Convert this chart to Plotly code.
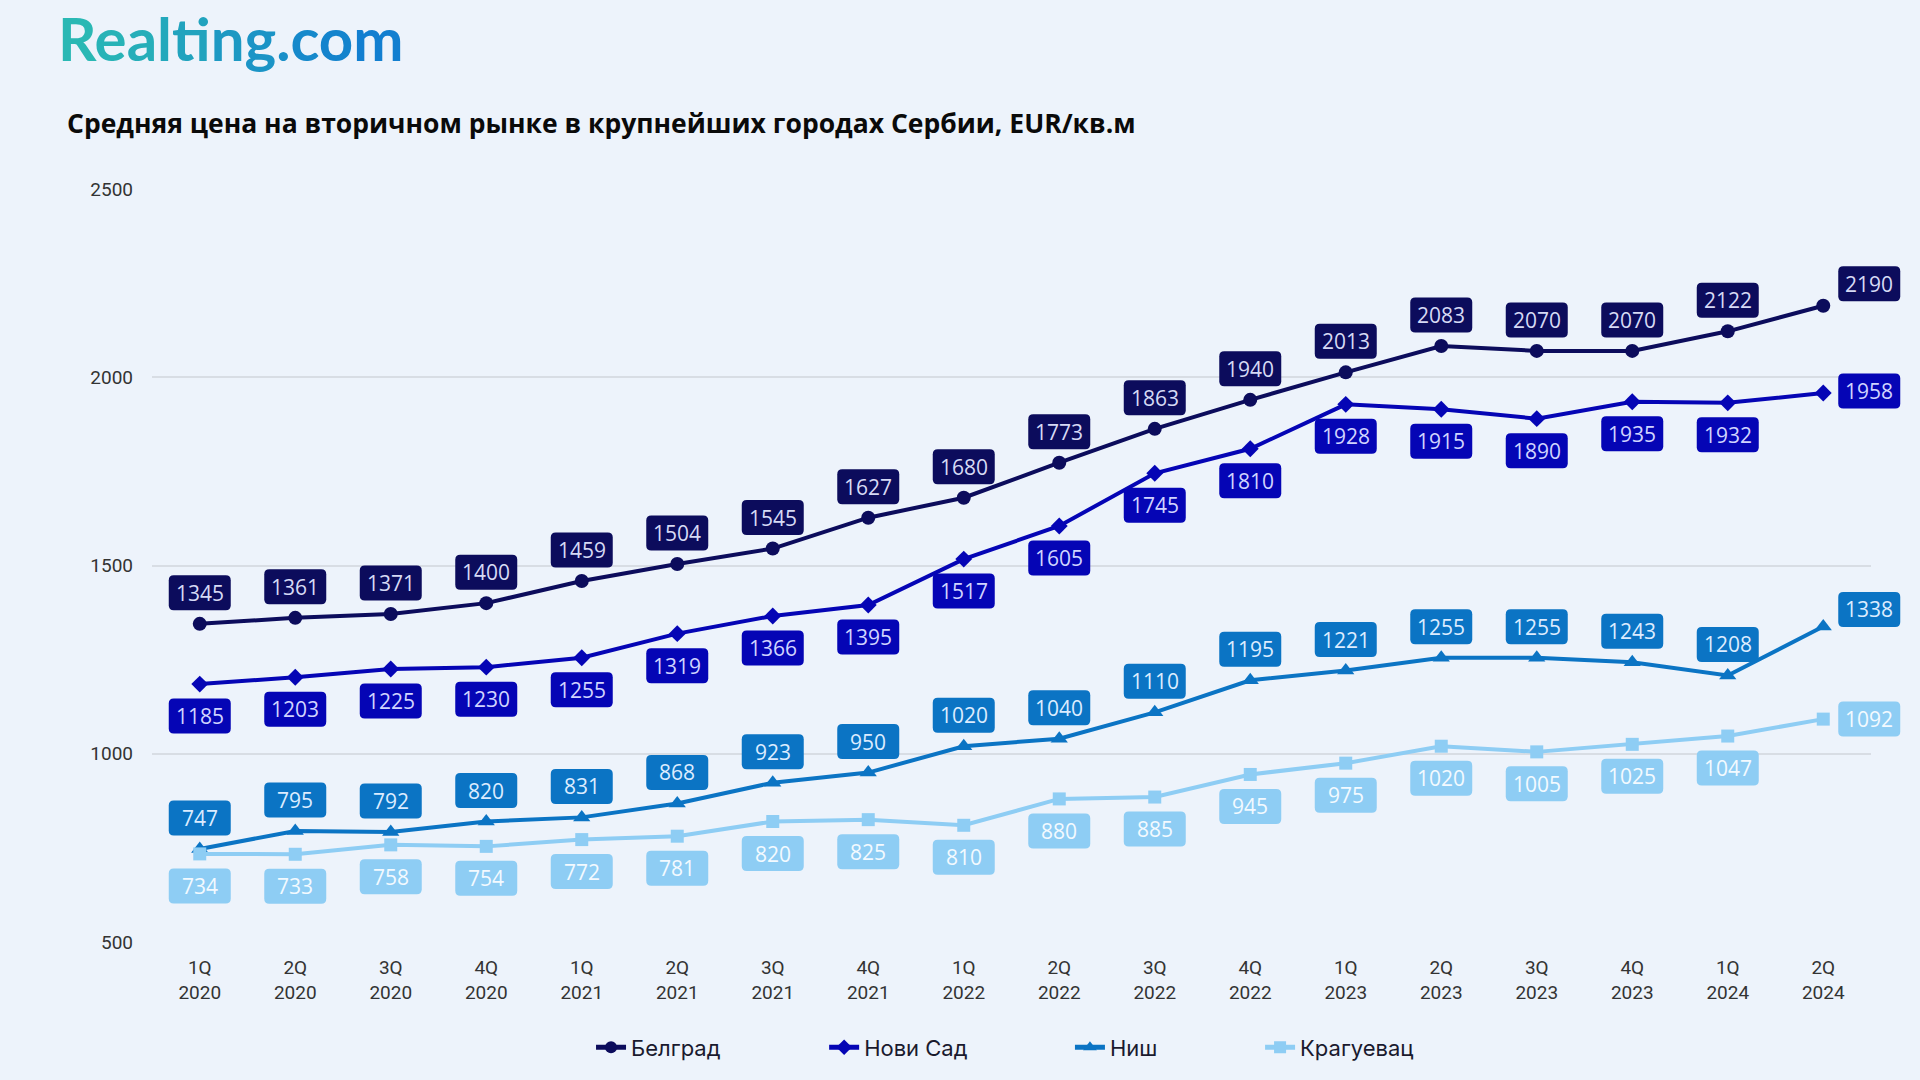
import plotly.graph_objects as go

categories = ["1Q<br>2020", "2Q<br>2020", "3Q<br>2020", "4Q<br>2020",
              "1Q<br>2021", "2Q<br>2021", "3Q<br>2021", "4Q<br>2021",
              "1Q<br>2022", "2Q<br>2022", "3Q<br>2022", "4Q<br>2022",
              "1Q<br>2023", "2Q<br>2023", "3Q<br>2023", "4Q<br>2023",
              "1Q<br>2024", "2Q<br>2024"]

belgrade = [1345, 1361, 1371, 1400, 1459, 1504, 1545, 1627, 1680, 1773, 1863, 1940, 2013, 2083, 2070, 2070, 2122, 2190]
novi_sad = [1185, 1203, 1225, 1230, 1255, 1319, 1366, 1395, 1517, 1605, 1745, 1810, 1928, 1915, 1890, 1935, 1932, 1958]
nis = [747, 795, 792, 820, 831, 868, 923, 950, 1020, 1040, 1110, 1195, 1221, 1255, 1255, 1243, 1208, 1338]
kragujevac = [734, 733, 758, 754, 772, 781, 820, 825, 810, 880, 885, 945, 975, 1020, 1005, 1025, 1047, 1092]

series_names = ["Белград", "Нови Сад", "Ниш", "Крагуевац"]
y_ticks = [500, 1000, 1500, 2000, 2500]

BG = "#edf3fb"
styles = [
    # color, symbol, size, label text color, label yshift, last label (xshift, yshift)
    ("#0c0c5c", "circle", 14, "#d6daf5", 31, (46, 22)),
    ("#0505b5", "diamond", 13, "#d0d4ff", -32, (46, 2)),
    ("#0b74c4", "triangle-up", 15, "#dcecff", 31, (46, 17)),
    ("#8ecdf4", "square", 13, "#f3faff", -32, (46, 0)),
]
legend_x = [0.2554, 0.391, 0.534, 0.6446]
BOX_W, BOX_H, BOX_R = 62, 35, 5


def rounded_box_path(cx, cy, w, h, r):
    x0, x1 = cx - w / 2, cx + w / 2
    y0, y1 = cy - h / 2, cy + h / 2
    return (f"M {x0 + r},{y0} L {x1 - r},{y0} Q {x1},{y0} {x1},{y0 + r} "
            f"L {x1},{y1 - r} Q {x1},{y1} {x1 - r},{y1} L {x0 + r},{y1} "
            f"Q {x0},{y1} {x0},{y1 - r} L {x0},{y0 + r} Q {x0},{y0} {x0 + r},{y0} Z")


fig = go.Figure()
all_series = [belgrade, novi_sad, nis, kragujevac]
shapes = []
for idx, (name, vals, st) in enumerate(zip(series_names, all_series, styles)):
    color, sym, msize, tcol, ysh, (lx, ly) = st
    fig.add_trace(go.Scatter(
        x=categories, y=vals, name=name, mode="lines+markers",
        line=dict(color=color, width=4),
        marker=dict(color=color, symbol=sym, size=msize),
        hoverinfo="skip",
        legend="legend" if idx == 0 else "legend%d" % (idx + 1),
    ))
    n = len(vals)
    for i, (c, v) in enumerate(zip(categories, vals)):
        last = i == n - 1
        dx = lx if last else 0
        dy = ly if last else ysh
        if last:
            # last label sits right of the plot edge: anchor to paper right edge so it is not clipped
            shape_ref = dict(xref="paper", xanchor=1.0,
                             path=rounded_box_path(dx - 47.75, dy, BOX_W, BOX_H, BOX_R))
        else:
            shape_ref = dict(xref="x", xanchor=i,
                             path=rounded_box_path(dx, dy, BOX_W, BOX_H, BOX_R))
        shapes.append(dict(
            type="path", yref="y",
            xsizemode="pixel", ysizemode="pixel", yanchor=v,
            fillcolor=color, line=dict(width=0), layer="above",
            **shape_ref,
        ))
        fig.add_annotation(
            x=c, y=v, xref="x", yref="y", text=str(v), showarrow=False,
            xshift=dx, yshift=dy,
            font=dict(family="Open Sans", size=21, color=tcol),
            align="center", valign="middle",
        )

# Logo with gradient-like per-letter coloring
logo = "Realting.com"
c0 = (0x2a, 0xb8, 0xb4)
c1 = (0x12, 0x7f, 0xd0)
parts = []
for k, ch in enumerate(logo):
    t = k / (len(logo) - 1)
    rgb = tuple(int(round(a + (b - a) * t)) for a, b in zip(c0, c1))
    parts.append("<span style='color:#%02x%02x%02x'>%s</span>" % (rgb + (ch,)))
fig.add_annotation(
    xref="paper", yref="paper", x=-0.056, y=1.2, xanchor="left", yanchor="middle",
    text="<b>" + "".join(parts) + "</b>", showarrow=False,
    font=dict(family="Lato", size=60),
)

legend_common = dict(
    orientation="h", y=-0.14, xanchor="left", yanchor="middle",
    font=dict(family="Inter", size=22, color="#1a1a2e"),
    bgcolor="rgba(0,0,0,0)", itemsizing="constant",
)
legends = {}
for idx, lxp in enumerate(legend_x):
    key = "legend" if idx == 0 else "legend%d" % (idx + 1)
    legends[key] = dict(legend_common, x=lxp)

fig.update_layout(
    width=1920, height=1080,
    paper_bgcolor=BG, plot_bgcolor=BG,
    margin=dict(l=152, r=49, t=189, b=138),
    title=dict(
        text="<b>Средняя цена на вторичном рынке в крупнейших городах Сербии, EUR/кв.м</b>",
        x=67 / 1920, xanchor="left", xref="container",
        y=1 - 124 / 1080, yanchor="middle", yref="container",
        font=dict(family="Open Sans", size=26.5, color="#0a0a0a"),
    ),
    showlegend=True,
    shapes=shapes,
    xaxis=dict(
        type="category", range=[-0.5, len(categories) - 0.5],
        showgrid=False, zeroline=False, showline=False,
        tickfont=dict(family="Roboto", size=19, color="#333333"),
        ticks="", ticklabelstandoff=12,
    ),
    yaxis=dict(
        range=[500, 2500], tickvals=y_ticks, ticktext=[str(v) for v in y_ticks],
        showgrid=True, gridcolor="#d8dde4", gridwidth=1.5,
        zeroline=False, showline=False,
        tickfont=dict(family="Roboto", size=19, color="#333333"),
        ticks="", ticklabelstandoff=18,
    ),
    **legends,
)

fig.write_html("out.html", config={"displayModeBar": False},
               post_script="document.body.style.margin='0';document.body.style.background='%s';" % BG)
